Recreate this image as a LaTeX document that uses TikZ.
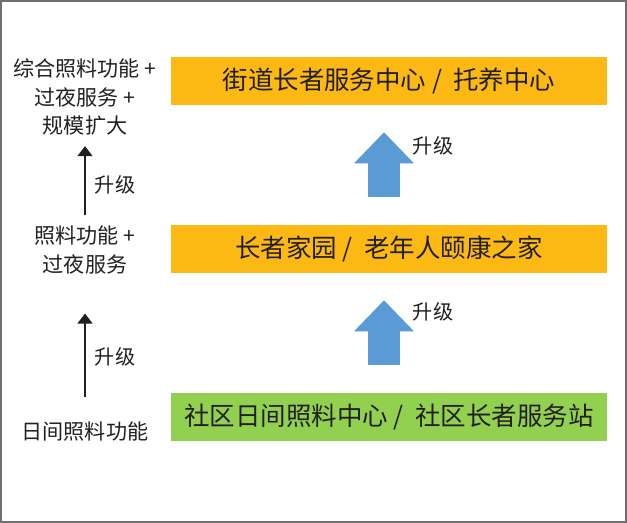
\documentclass[tikz,border=0pt]{standalone}
\usepackage{fontspec}
\setmainfont{Noto Sans CJK SC}
\usepackage{xcolor}
\usetikzlibrary{positioning, arrows.meta, calc}
\definecolor{stageorange}{RGB}{253,185,19}
\definecolor{stagegreen}{RGB}{146,208,80}
\definecolor{upblue}{RGB}{91,155,213}
\definecolor{inkgray}{RGB}{35,31,32}
\definecolor{framegray}{RGB}{112,112,112}

\begin{document}
\begin{tikzpicture}[
    x=0.02cm, y=-0.02cm,
    stage/.style={fill=stageorange, minimum width=8.72cm, minimum height=0.96cm, inner sep=0pt, text=inkgray, font=\fontsize{14.5}{16}\selectfont},
    note/.style={align=center, inner sep=0pt, text=inkgray, font=\fontsize{12}{16.5}\selectfont},
    uplabel/.style={inner sep=0pt, outer sep=0pt, text=inkgray, font=\fontsize{11.5}{14}\selectfont},
    thinup/.style={-{Triangle[length=2mm, width=3mm]}, line width=0.8pt, draw=inkgray, shorten <=0.2cm, shorten >=0.2cm},
    blockup/.style={-{Triangle[length=0.62cm, width=1.2cm, line width=0pt]}, line width=0.64cm, draw=upblue, shorten <=0.56cm, shorten >=0.54cm}
]
\useasboundingbox (0,0) rectangle (627,523);
\draw[framegray, line width=0.04cm] (1,1) rectangle (626,522);
% Stages
\node[stage] (center)  at (389,81)  {街道长者服务中心 /\ \ 托养中心};
\node[stage] (home)    at (389,249) {长者家园 /\ \ 老年人颐康之家};
\node[stage, fill=stagegreen] (station) at (389,417) {社区日间照料中心 /\ \ 社区长者服务站};
% Functions on the left
\node[note] (full)  at (85,97)  {综合照料功能 +\\过夜服务 +\\规模扩大};
\node[note] (night) at (85,250) {照料功能 +\\过夜服务};
\node[note] (day)   at (85,432) {日间照料功能};
% Upgrade arrows
\draw[thinup] (night) -- node[uplabel, right=0.2cm, pos=0.45]{升级} (full);
\draw[thinup, shorten <=0.5cm, shorten >=0.78cm] (day) -- node[uplabel, right=0.2cm, pos=0.44]{升级} (night);
\draw[blockup] ([xshift=-0.1cm]home.north) -- node[uplabel, pos=0.66, right=0.58cm]{升级} ([xshift=-0.1cm]center.south);
\draw[blockup] ([xshift=-0.1cm]station.north) -- node[uplabel, pos=0.68, right=0.58cm]{升级} ([xshift=-0.1cm]home.south);
\end{tikzpicture}
\end{document}
